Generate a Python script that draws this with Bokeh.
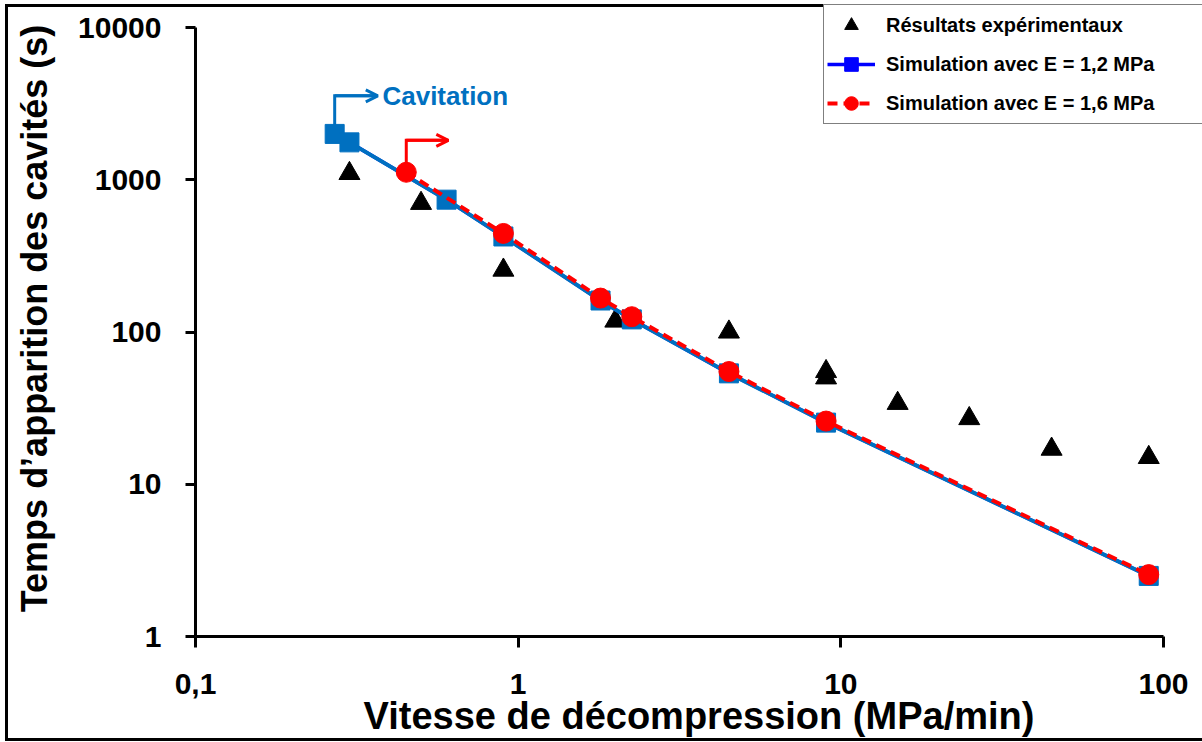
from bokeh.plotting import figure
from bokeh.models import (Range1d, FixedTicker, Legend, LegendItem, Arrow,
                          OpenHead, Label)
from bokeh.embed import file_html
from bokeh.resources import INLINE

# ---------------- data ----------------
exp_x = [0.3, 0.5, 0.9, 2, 4.5, 9, 9, 15, 25, 45, 90]
exp_y = [1100, 700, 255, 118, 100, 55, 50, 34, 27, 17, 15]

sim12_x = [0.27, 0.3, 0.6, 0.9, 1.8, 2.25, 4.5, 9, 90]
sim12_y = [2000, 1760, 740, 424, 161, 121, 53.5, 25.4, 2.5]

sim16_x = [0.45, 0.9, 1.8, 2.25, 4.5, 9, 90]
sim16_y = [1120, 444, 167, 126, 55, 26, 2.55]

x_ticks = [0.1, 1, 10, 100]
x_tick_labels = ["0,1", "1", "10", "100"]
y_ticks = [1, 10, 100, 1000, 10000]
y_tick_labels = ["1", "10", "100", "1000", "10000"]

x_title = "Vitesse de décompression (MPa/min)"
y_title = "Temps d\u2019apparition des cavités (s)"
legend_labels = ["Résultats expérimentaux",
                 "Simulation avec E = 1,2 MPa",
                 "Simulation avec E = 1,6 MPa"]
cavitation_text = "Cavitation"

# ---------------- layout ----------------
W, H = 1202, 742
LEFT, BOTTOM = 195, 106          # space for the axes
AXIS_W, AXIS_H = 968, 609        # pixel length of the drawn axes
FRAME_W, FRAME_H = W - LEFT, H - BOTTOM
x_dec = len(x_ticks) - 1
y_dec = len(y_ticks) - 1
x_max = x_ticks[-1] * 10 ** (x_dec * (FRAME_W - AXIS_W) / AXIS_W)
y_max = y_ticks[-1] * 10 ** (y_dec * (FRAME_H - AXIS_H) / AXIS_H)

FONT = "Liberation Sans"
BLUE = "#0070C0"
LEG_BLUE = "#0000FF"
RED = "#FF0000"

page_bg = ("linear-gradient(#000,#000) 5px 4px / 1300px 3px no-repeat, "
           "linear-gradient(#000,#000) 5px 4px / 3px 737px no-repeat, "
           "linear-gradient(#000,#000) 5px 738px / 1300px 3px no-repeat, #fff")

p = figure(width=W, height=H,
           x_axis_type="log", y_axis_type="log",
           x_range=Range1d(x_ticks[0], x_max),
           y_range=Range1d(y_ticks[0], y_max),
           output_backend="svg", toolbar_location=None,
           min_border_left=LEFT, min_border_right=0,
           min_border_top=0, min_border_bottom=BOTTOM,
           background_fill_color=None, border_fill_color=None,
           styles={"background": page_bg})

p.outline_line_color = None
p.xgrid.grid_line_color = None
p.ygrid.grid_line_color = None

for ax, ticks, labels in ((p.xaxis[0], x_ticks, x_tick_labels),
                          (p.yaxis[0], y_ticks, y_tick_labels)):
    ax.ticker = FixedTicker(ticks=ticks, minor_ticks=[])
    ax.bounds = (ticks[0], ticks[-1])
    ax.major_label_overrides = {t: l for t, l in zip(ticks, labels)}
    ax.axis_line_width = 3
    ax.axis_line_color = "black"
    ax.major_tick_line_width = 3
    ax.major_tick_line_color = "black"
    ax.major_tick_in = 0
    ax.minor_tick_line_color = None
    ax.major_label_text_font = FONT
    ax.major_label_text_font_style = "bold"
    ax.major_label_text_font_size = "30px"
    ax.major_label_text_color = "black"
    ax.axis_label_text_font = FONT
    ax.axis_label_text_font_style = "bold"
    ax.axis_label_text_color = "black"

p.xaxis.major_tick_out = 11
p.yaxis.major_tick_out = 10
p.xaxis.major_label_standoff = 26
p.yaxis.major_label_standoff = 24
p.xaxis.axis_label = x_title
p.yaxis.axis_label = y_title
p.xaxis.axis_label_text_font_size = "38px"
p.yaxis.axis_label_text_font_size = "36px"
p.xaxis.axis_label_standoff = -2
p.yaxis.axis_label_standoff = 20

# ---------------- cavitation annotations ----------------
b_x0, b_y0 = sim12_x[0], sim12_y[0]
b_top = b_y0 * 1.78
b_end = b_x0 * 1.36
r_x0, r_y0 = sim16_x[0], sim16_y[0]
r_top = r_y0 * 1.62
r_end = r_x0 * 1.35

p.line([b_x0, b_x0, b_end], [b_y0, b_top, b_top], line_color=BLUE,
       line_width=3, line_join="miter")
p.add_layout(Arrow(end=OpenHead(size=12, line_color=BLUE, line_width=3),
                   x_start=b_x0, y_start=b_top, x_end=b_end, y_end=b_top,
                   line_color=BLUE, line_width=3))
p.line([r_x0, r_x0, r_end], [r_y0, r_top, r_top], line_color=RED,
       line_width=3, line_join="miter")
p.add_layout(Arrow(end=OpenHead(size=12, line_color=RED, line_width=3),
                   x_start=r_x0, y_start=r_top, x_end=r_end, y_end=r_top,
                   line_color=RED, line_width=3))
p.add_layout(Label(x=b_x0 * 1.406, y=b_top, text=cavitation_text,
                   text_font=FONT, text_font_style="bold",
                   text_font_size="26px", text_color=BLUE,
                   text_baseline="middle", text_align="left"))

# ---------------- series ----------------
tri = p.scatter(exp_x, exp_y, marker="triangle", size=21, color="black")
# legend colour for the E = 1,2 MPa series (hidden under the plotted series)
lg_bl = p.line(sim12_x, sim12_y, line_color=LEG_BLUE, line_width=3.5)
lg_bs = p.scatter(sim12_x, sim12_y, marker="square", size=15, color=LEG_BLUE)
p.line(sim12_x, sim12_y, line_color=BLUE, line_width=4)
p.scatter(sim12_x, sim12_y, marker="square", size=19, color=BLUE)
rl = p.line(sim16_x, sim16_y, line_color=RED, line_width=4, line_dash="10 6")
rc = p.scatter(sim16_x, sim16_y, marker="circle", size=20, color=RED)

legend = Legend(items=[LegendItem(label=legend_labels[0], renderers=[tri]),
                       LegendItem(label=legend_labels[1], renderers=[lg_bl, lg_bs]),
                       LegendItem(label=legend_labels[2], renderers=[rl, rc])],
                location=(628, 512),
                label_text_font=FONT, label_text_font_style="bold",
                label_text_font_size="20px", label_text_color="black",
                glyph_width=48, glyph_height=34, label_height=34,
                label_width=330, label_standoff=11, spacing=5, padding=3,
                margin=0,
                border_line_color="black", border_line_width=1,
                background_fill_color="white", background_fill_alpha=1.0)
p.add_layout(legend)

open("out.html", "w").write(file_html(p, INLINE))
